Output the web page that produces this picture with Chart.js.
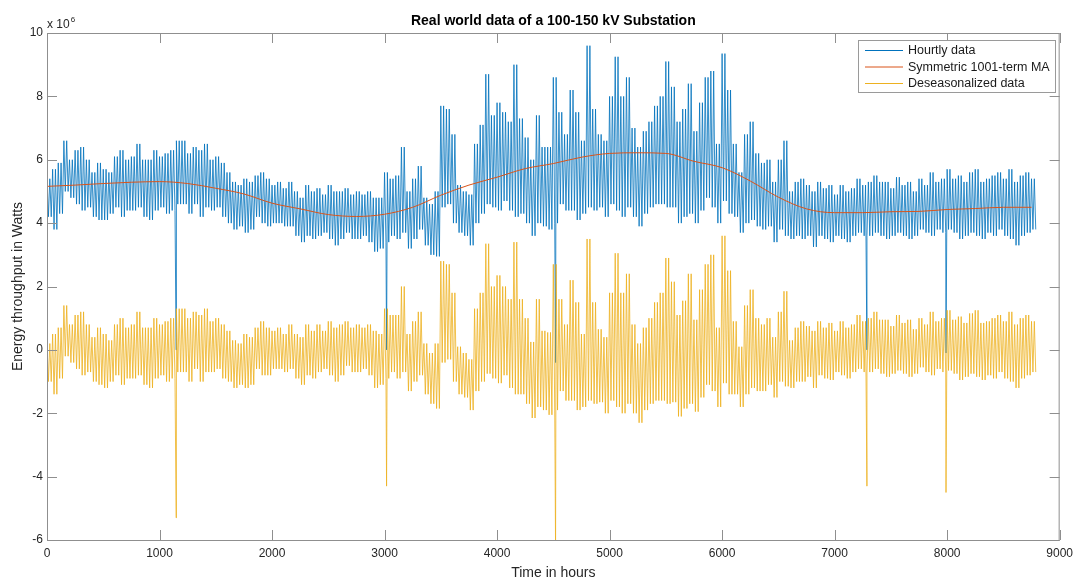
<!DOCTYPE html>
<html>
<head>
<meta charset="utf-8">
<script src="https://cdn.jsdelivr.net/npm/chart.js@4.4.1/dist/chart.umd.min.js"></script>
<style>
  html, body { margin: 0; background: #fff; }
  #wrap { width: 1079px; height: 581px; }
</style>
</head>
<body>
<div id="wrap"><canvas id="chart" width="1079" height="581"></canvas></div>
<script>
// values in units of 10^6 W, read every 50 hours (daily high / daily low within each window)
const BIN = 50;

const hourlyHigh = [
  5.4, 5.7, 5.9, 6.6, 6.0, 6.3, 6.4, 6.0, 5.6, 5.9,
  5.7, 5.6, 6.1, 6.3, 6.0, 6.1, 6.5, 6.0, 6.0, 6.3,
  6.1, 6.2, 6.3, 6.6, 6.6, 6.2, 6.4, 6.3, 6.5, 6.0,
  6.1, 5.9, 5.6, 5.3, 5.2, 5.4, 5.3, 5.5, 5.6, 5.4,
  5.2, 5.3, 5.1, 5.3, 5.0, 4.8, 5.2, 5.0, 5.1, 4.9,
  5.2, 5.0, 5.0, 5.1, 4.9, 5.0, 4.9, 5.0, 4.8, 4.8,
  5.6, 5.4, 5.5, 6.4, 5.0, 5.4, 5.8, 4.8, 4.6, 5.0,
  7.7, 7.6, 6.8, 5.2, 5.0, 4.9, 6.5, 7.1, 8.7, 7.4,
  7.8, 7.5, 7.2, 9.0, 7.3, 6.7, 6.0, 7.4, 6.4, 6.4,
  8.6, 7.5, 6.8, 8.2, 7.5, 6.6, 9.6, 7.6, 6.8, 6.6,
  8.0, 9.25, 8.0, 8.6, 7.0, 6.4, 6.9, 7.2, 7.7, 8.0,
  9.1, 8.3, 7.2, 7.6, 8.4, 6.9, 7.8, 8.6, 8.8, 6.5,
  9.35, 8.2, 6.5, 5.6, 6.8, 7.2, 6.2, 5.9, 6.0, 5.3,
  6.0, 6.6, 5.0, 5.3, 5.4, 5.2, 5.0, 5.3, 5.1, 5.2,
  4.9, 5.2, 5.0, 5.1, 5.4, 5.2, 5.3, 5.5, 5.3, 5.3,
  5.1, 5.45, 5.2, 5.3, 5.0, 5.4, 5.2, 5.6, 5.3, 5.4,
  5.7, 5.4, 5.5, 5.3, 5.6, 5.7, 5.3, 5.4, 5.5, 5.6,
  5.4, 5.7, 5.3, 5.5, 5.6, 5.4
];

const hourlyLow = [
  4.2, 3.8, 4.3, 5.0, 4.8, 4.6, 4.4, 4.5, 4.2, 4.1,
  4.1, 4.3, 4.5, 4.2, 4.4, 4.4, 4.5, 4.2, 4.1, 4.4,
  4.5, 4.3, 4.4, 4.6, 4.6, 4.3, 4.6, 4.2, 4.5, 4.4,
  4.5, 4.2, 4.0, 3.8, 3.9, 3.7, 3.8, 4.2, 4.0, 3.9,
  4.0, 4.0, 3.9, 3.9, 3.6, 3.4, 3.6, 3.5, 3.6, 3.7,
  3.5, 3.3, 3.5, 3.7, 3.5, 3.5, 3.6, 3.4, 3.1, 3.2,
  3.4, 3.6, 3.5, 3.7, 3.2, 3.5, 3.8, 3.3, 3.0, 2.95,
  4.5, 4.6, 4.0, 3.7, 3.6, 3.3, 4.0, 4.3, 4.6, 4.5,
  4.4, 4.7, 4.4, 4.2, 4.3, 4.0, 3.6, 4.0, 3.9, 3.8,
  4.0, 4.6, 4.4, 4.4, 4.1, 4.3, 4.5, 4.4, 4.5, 4.2,
  4.6, 4.4, 4.2, 4.5, 4.2, 3.9, 4.3, 4.5, 4.6, 4.6,
  4.5, 4.5, 4.0, 4.2, 4.3, 4.0, 4.4, 4.8, 4.5, 4.0,
  4.7, 4.3, 4.2, 3.7, 4.0, 4.1, 3.9, 3.8, 3.9, 3.4,
  3.8, 3.6, 3.5, 3.6, 3.5, 3.6, 3.25, 3.6, 3.5, 3.4,
  3.6, 3.5, 3.4, 3.6, 3.7, 3.6, 3.6, 3.7, 3.6, 3.5,
  3.6, 3.7, 3.6, 3.5, 3.6, 3.8, 3.7, 3.6, 3.8, 3.7,
  3.8, 3.7, 3.5, 3.6, 3.7, 3.6, 3.5, 3.7, 3.6, 3.8,
  3.6, 3.5, 3.3, 3.6, 3.7, 3.8
];

const deseasHigh = [
  0.2, 0.5, 0.7, 1.4, 0.8, 1.1, 1.2, 0.8, 0.4, 0.7,
  0.5, 0.3, 0.8, 1.0, 0.7, 0.8, 1.2, 0.7, 0.7, 1.0,
  0.8, 0.9, 1.0, 1.3, 1.3, 1.0, 1.2, 1.1, 1.3, 0.9,
  1.0, 0.8, 0.6, 0.3, 0.2, 0.5, 0.4, 0.7, 0.9, 0.7,
  0.6, 0.7, 0.5, 0.8, 0.5, 0.4, 0.8, 0.6, 0.8, 0.6,
  0.9, 0.7, 0.8, 0.9, 0.7, 0.8, 0.7, 0.8, 0.6, 0.5,
  1.3, 1.1, 1.1, 2.0, 0.5, 0.9, 1.2, 0.2, -0.1, 0.2,
  2.8, 2.7, 1.8, 0.1, -0.1, -0.3, 1.3, 1.8, 3.35, 2.0,
  2.35, 2.0, 1.6, 3.4, 1.6, 1.0, 0.25, 1.6, 0.6, 0.55,
  2.7, 1.6, 0.8, 2.2, 1.5, 0.5, 3.5, 1.5, 0.65, 0.4,
  1.8, 3.05, 1.8, 2.4, 0.8, 0.2, 0.7, 1.0, 1.5, 1.8,
  2.9, 2.15, 1.1, 1.55, 2.4, 0.95, 1.9, 2.7, 3.0, 0.7,
  3.6, 2.5, 0.9, 0.1, 1.4, 1.9, 1.0, 0.8, 1.0, 0.4,
  1.2, 1.85, 0.3, 0.7, 0.9, 0.75, 0.6, 0.9, 0.7, 0.85,
  0.6, 0.9, 0.7, 0.8, 1.1, 0.9, 1.0, 1.2, 0.95, 0.95,
  0.75, 1.1, 0.85, 0.95, 0.65, 1.0, 0.8, 1.2, 0.9, 1.0,
  1.25, 0.95, 1.05, 0.85, 1.15, 1.25, 0.85, 0.9, 1.0, 1.1,
  0.9, 1.2, 0.8, 1.0, 1.1, 0.9
];

const deseasLow = [
  -1.0, -1.4, -0.9, -0.2, -0.4, -0.6, -0.8, -0.7, -1.0, -1.1,
  -1.2, -1.0, -0.8, -1.1, -0.9, -0.9, -0.8, -1.1, -1.2, -0.9,
  -0.8, -1.0, -0.9, -0.7, -0.7, -1.0, -0.6, -1.0, -0.7, -0.7,
  -0.6, -0.9, -1.0, -1.2, -1.1, -1.2, -1.1, -0.6, -0.8, -0.8,
  -0.6, -0.6, -0.7, -0.6, -0.9, -1.1, -0.8, -0.9, -0.7, -0.6,
  -0.8, -1.0, -0.8, -0.5, -0.7, -0.7, -0.6, -0.8, -1.2, -1.1,
  -0.9, -0.7, -0.9, -0.7, -1.3, -1.0, -0.8, -1.4, -1.7, -1.85,
  -0.4, -0.3, -1.0, -1.4, -1.5, -1.9, -1.3, -1.0, -0.75, -0.9,
  -1.05, -0.8, -1.2, -1.4, -1.4, -1.7, -2.15, -1.8, -1.9, -2.05,
  -1.9, -1.3, -1.6, -1.6, -1.9, -1.8, -1.6, -1.7, -1.65, -2.0,
  -1.6, -1.8, -2.0, -1.7, -2.0, -2.3, -1.9, -1.7, -1.6, -1.6,
  -1.7, -1.65, -2.1, -1.85, -1.7, -1.95, -1.5, -1.1, -1.3, -1.8,
  -1.05, -1.4, -1.4, -1.8, -1.4, -1.2, -1.3, -1.3, -1.1, -1.5,
  -1.0, -1.15, -1.2, -1.0, -1.0, -0.85, -1.2, -0.8, -0.9, -0.95,
  -0.7, -0.8, -0.9, -0.7, -0.6, -0.7, -0.7, -0.6, -0.75, -0.85,
  -0.75, -0.65, -0.75, -0.85, -0.75, -0.55, -0.7, -0.8, -0.6, -0.7,
  -0.65, -0.75, -0.95, -0.85, -0.75, -0.85, -0.95, -0.8, -0.9, -0.7,
  -0.9, -1.0, -1.2, -0.9, -0.8, -0.7
];

// single-hour outages
const outageHours = [1148, 3018, 4520, 7287, 7990];
const outageHourly = [0.0, 0.0, -0.4, 0.0, -0.1];
const outageDeseas = [-5.3, -4.3, -6.3, -4.3, -4.5];

const maHours = [0, 250, 500, 750, 1000, 1250, 1500, 1750, 2000, 2250, 2500, 2750,
  3000, 3250, 3500, 3750, 4000, 4250, 4500, 4750, 5000, 5250, 5500, 5750,
  6000, 6250, 6500, 6750, 7000, 7250, 7500, 7750, 8000, 8250, 8500, 8750];
const maValues = [5.16, 5.2, 5.25, 5.29, 5.31, 5.25, 5.1, 4.92, 4.63, 4.45, 4.27, 4.21,
  4.28, 4.5, 4.88, 5.2, 5.45, 5.72, 5.88, 6.08, 6.2, 6.22, 6.2, 5.95,
  5.75, 5.33, 4.82, 4.45, 4.33, 4.33, 4.36, 4.37, 4.43, 4.46, 4.5, 4.5];

const xTicks = [0, 1000, 2000, 3000, 4000, 5000, 6000, 7000, 8000, 9000];
const yTicks = [-6, -4, -2, 0, 2, 4, 6, 8, 10];

const seriesNames = ['Hourtly data', 'Symmetric 1001-term MA', 'Deseasonalized data'];
const seriesColors = ['#0072BD', '#D95319', '#EDB120'];

const FONT = "'Liberation Sans', Arial, Helvetica, sans-serif";

// a 50 h window holds about two daily cycles: high, low, high, low
function dailyTrace(high, low, outH, outV) {
  const pts = [];
  high.forEach((v, i) => {
    const h0 = i * BIN;
    pts.push({ x: h0, y: v }, { x: h0 + BIN / 4, y: low[i] },
             { x: h0 + BIN / 2, y: v }, { x: h0 + 3 * BIN / 4, y: low[i] });
  });
  outH.forEach((h, k) => pts.push({ x: h, y: outV[k] }));
  return pts.sort((a, b) => a.x - b.x);
}

const matlabLook = {
  id: 'matlabLook',
  afterDraw(chart) {
    const { ctx, chartArea: a, scales: { x, y } } = chart;
    ctx.save();

    // box and inward tick marks
    ctx.strokeStyle = '#8f8f8f';
    ctx.lineWidth = 1;
    ctx.strokeRect(a.left + 0.5, a.top + 0.5, a.right - a.left - 1, a.bottom - a.top);
    ctx.beginPath();
    xTicks.forEach(t => {
      const px = Math.round(x.getPixelForValue(t)) + 0.5;
      ctx.moveTo(px, a.bottom); ctx.lineTo(px, a.bottom - 10);
      ctx.moveTo(px, a.top); ctx.lineTo(px, a.top + 10);
    });
    yTicks.forEach(t => {
      const py = Math.round(y.getPixelForValue(t)) + 0.5;
      ctx.moveTo(a.left, py); ctx.lineTo(a.left + 10, py);
      ctx.moveTo(a.right, py); ctx.lineTo(a.right - 10, py);
    });
    ctx.stroke();

    // title and axis labels
    ctx.fillStyle = '#000';
    ctx.textAlign = 'center';
    ctx.textBaseline = 'alphabetic';
    ctx.font = 'bold 14px ' + FONT;
    ctx.fillText('Real world data of a 100-150 kV Substation', (a.left + a.right) / 2, 25);

    ctx.fillStyle = '#262626';
    ctx.font = '14px ' + FONT;
    ctx.fillText('Time in hours', (a.left + a.right) / 2, 577);

    ctx.save();
    ctx.translate(22, (a.top + a.bottom) / 2);
    ctx.rotate(-Math.PI / 2);
    ctx.fillText('Energy throughput in Watts', 0, 0);
    ctx.restore();

    // exponent
    ctx.textAlign = 'left';
    ctx.font = '12px ' + FONT;
    ctx.fillText('x 10', a.left, 28);
    const w = ctx.measureText('x 10').width;
    ctx.font = '8px ' + FONT;
    ctx.fillText('6', a.left + w + 1, 22);

    // legend
    const lx = 858, ly = 40, lw = 197, lh = 52;
    ctx.fillStyle = '#fff';
    ctx.fillRect(lx, ly, lw, lh);
    ctx.strokeStyle = '#9a9a9a';
    ctx.strokeRect(lx + 0.5, ly + 0.5, lw, lh);
    ctx.font = '12.5px ' + FONT;
    ctx.textBaseline = 'middle';
    seriesNames.forEach((name, i) => {
      const ry = ly + 10.5 + i * 16.5;
      ctx.strokeStyle = seriesColors[i];
      ctx.lineWidth = 1;
      ctx.beginPath();
      ctx.moveTo(lx + 7, ry); ctx.lineTo(lx + 45, ry);
      ctx.stroke();
      ctx.fillStyle = '#1a1a1a';
      ctx.fillText(name, lx + 50, ry + 0.5);
    });
    ctx.restore();
  }
};

new Chart(document.getElementById('chart'), {
  type: 'line',
  data: {
    datasets: [
      {
        label: seriesNames[0],
        data: dailyTrace(hourlyHigh, hourlyLow, outageHours, outageHourly),
        borderColor: seriesColors[0],
        borderWidth: 0.8,
        pointRadius: 0,
        tension: 0,
        order: 3
      },
      {
        label: seriesNames[1],
        data: maHours.map((h, i) => ({ x: h, y: maValues[i] })),
        borderColor: seriesColors[1],
        borderWidth: 1,
        pointRadius: 0,
        cubicInterpolationMode: 'monotone',
        order: 2
      },
      {
        label: seriesNames[2],
        data: dailyTrace(deseasHigh, deseasLow, outageHours, outageDeseas),
        borderColor: seriesColors[2],
        borderWidth: 0.8,
        pointRadius: 0,
        tension: 0,
        order: 1
      }
    ]
  },
  options: {
    responsive: false,
    devicePixelRatio: 1,
    animation: false,
    layout: { padding: { top: 33, right: 18, left: 0, bottom: 0 } },
    plugins: { legend: { display: false }, tooltip: { enabled: false }, title: { display: false } },
    scales: {
      x: {
        type: 'linear',
        min: 0,
        max: 9000,
        afterFit: s => { s.height = 41; },
        afterBuildTicks: s => { s.ticks = xTicks.map(v => ({ value: v })); },
        grid: { display: false, drawTicks: false },
        border: { display: false },
        ticks: { padding: 6, color: '#262626', font: { size: 12, family: FONT }, callback: v => String(v), maxRotation: 0 }
      },
      y: {
        type: 'linear',
        min: -6,
        max: 10,
        afterFit: s => { s.width = 47; },
        afterBuildTicks: s => { s.ticks = yTicks.map(v => ({ value: v })); },
        grid: { display: false, drawTicks: false },
        border: { display: false },
        ticks: { padding: 4, color: '#262626', font: { size: 12, family: FONT }, callback: v => String(v) }
      }
    }
  },
  plugins: [matlabLook]
});
</script>
</body>
</html>
